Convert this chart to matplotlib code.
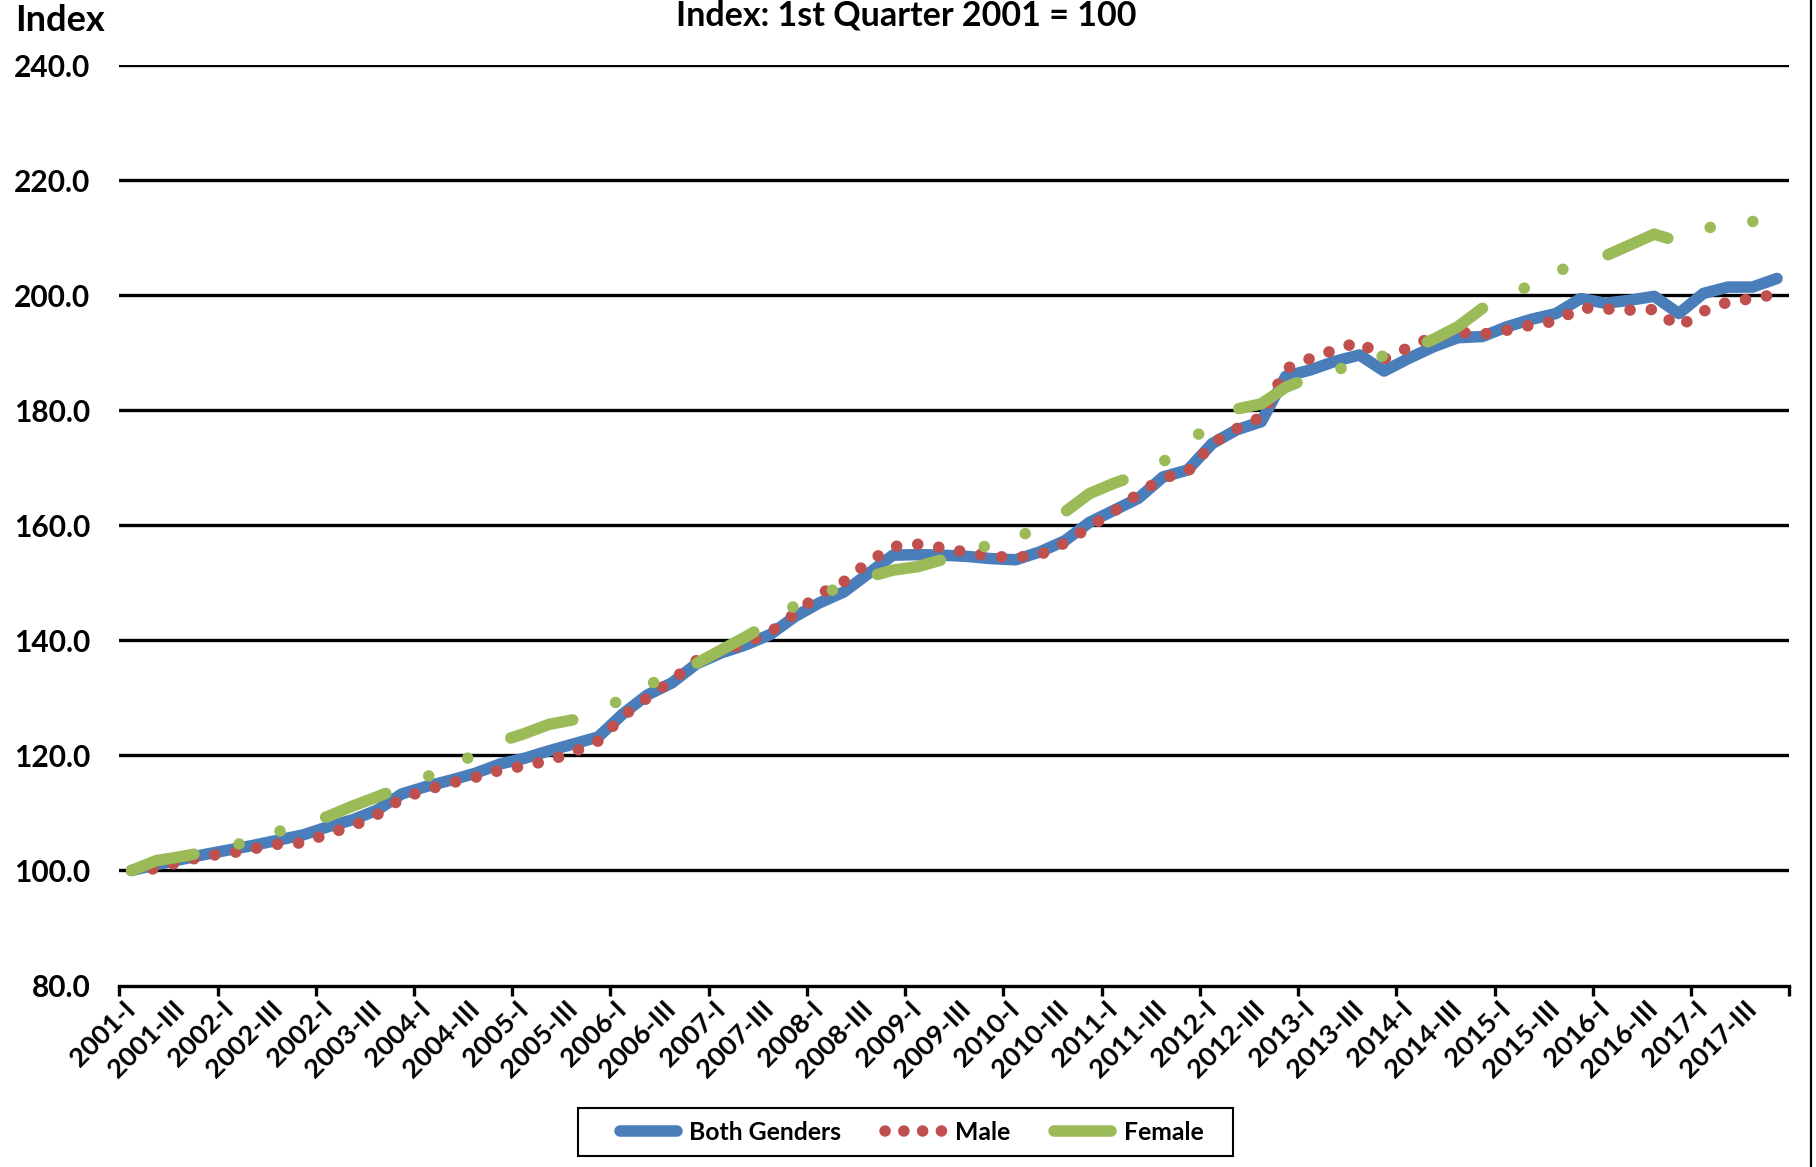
import numpy as np
import matplotlib
matplotlib.use("Agg")
import matplotlib.pyplot as plt
from matplotlib.lines import Line2D
from matplotlib.patches import Rectangle

# ---------------- data ----------------
tick_labels = ["2001-I", "2001-III", "2002-I", "2002-III", "2002-I", "2003-III",
               "2004-I", "2004-III", "2005-I", "2005-III", "2006-I", "2006-III",
               "2007-I", "2007-III", "2008-I", "2008-III", "2009-I", "2009-III",
               "2010-I", "2010-III", "2011-I", "2011-III", "2012-I", "2012-III",
               "2013-I", "2013-III", "2014-I", "2014-III", "2015-I", "2015-III",
               "2016-I", "2016-III", "2017-I", "2017-III"]

both = [100.0, 101.0, 101.9, 102.8, 103.6, 104.4, 105.3, 106.2,
        107.6, 108.8, 110.5, 113.3, 114.6, 115.7, 116.9, 118.5,
        119.5, 120.8, 122.0, 123.2, 127.2, 130.5, 132.6, 135.9,
        137.8, 139.2, 141.0, 144.1, 146.5, 148.4, 151.6, 154.8,
        154.9, 154.8, 154.6, 154.2, 154.0, 155.4, 157.3, 160.5,
        162.6, 164.7, 168.4, 169.6, 174.2, 176.6, 178.0, 185.9,
        187.0, 188.5, 189.6, 186.8, 189.0, 191.0, 192.6, 192.8,
        194.5, 195.8, 196.8, 199.4, 198.6, 199.1, 199.8, 196.8,
        200.3, 201.4, 201.4, 202.9]

male = [100.0, 100.3, 101.5, 102.5, 103.0, 103.8, 104.6, 104.8,
        106.4, 107.7, 109.7, 112.5, 114.0, 115.2, 116.2, 117.4,
        118.2, 119.1, 120.6, 122.5, 126.8, 130.0, 133.0, 136.5,
        138.0, 139.5, 141.4, 144.6, 148.0, 150.2, 153.6, 156.3,
        156.7, 156.1, 155.3, 154.6, 154.4, 154.9, 156.9, 159.7,
        162.4, 165.5, 168.2, 169.3, 174.2, 176.8, 178.8, 187.2,
        189.0, 190.5, 191.9, 188.9, 190.9, 192.8, 193.6, 193.2,
        193.9, 194.8, 195.5, 197.8, 197.6, 197.4, 197.5, 194.5,
        197.2, 198.8, 199.4, 200.2]

female = [100.0, 101.7, 102.4, 103.2, 104.2, 105.3, 106.8, 108.0,
          109.4, 111.2, 112.8, 114.5, 116.2, 118.5, 120.0, 122.4,
          123.8, 125.4, 126.2, 128.0, 129.7, 132.2, 134.0, 136.0,
          138.3, 140.6, 143.1, 146.0, 147.8, 149.5, 151.0, 152.2,
          152.8, 154.0, 155.8, 156.5, 158.0, 159.4, 162.3, 165.5,
          167.3, 168.8, 171.0, 174.5, 177.5, 180.2, 181.1, 184.0,
          185.7, 187.0, 188.0, 189.5, 190.5, 192.3, 194.5, 197.7,
          199.8, 201.8, 204.0, 205.8, 206.8, 208.7, 210.6, 209.3,
          211.6, 212.2, 212.8, 213.4]

series_names = ["Both Genders", "Male", "Female"]
y_ticks = [80, 100, 120, 140, 160, 180, 200, 220, 240]

# ---------------- style ----------------
FONT = ["Lato", "DejaVu Sans"]
plt.rcParams["font.family"] = FONT
plt.rcParams["font.weight"] = "bold"

BLUE = "#4A7EBB"
RED = "#C0504D"
GREEN = "#9BBB59"
LW = 8.3
MALE_STYLE = (0, (0.01, 1.83))
FEMALE_STYLE = (0, (5.62, 4.01, 0.01, 3.72, 0.01, 4.13))

W, H = 1816, 1167
fig = plt.figure(figsize=(W / 100, H / 100), dpi=100)
ax = fig.add_axes([0.0657, 0.1555, 0.9853 - 0.0657, 0.9443 - 0.1555])

x = np.arange(len(both))

ax.plot(x, both, color=BLUE, lw=LW, solid_capstyle="round",
        solid_joinstyle="round", zorder=3)
ax.plot(x, male, color=RED, lw=LW, linestyle=MALE_STYLE,
        dash_capstyle="round", dash_joinstyle="round", zorder=4)
ax.plot(x, female, color=GREEN, lw=LW, linestyle=FEMALE_STYLE,
        dash_capstyle="round", dash_joinstyle="round", zorder=5)

ax.set_xlim(-0.5, len(both) - 0.5)
ax.set_ylim(80, 240)

# gridlines
ax.set_yticks(y_ticks)
ax.set_yticklabels([f"{v:.1f}" for v in y_ticks], fontsize=21.5, fontweight="bold")
ax.tick_params(axis="y", length=0, pad=21)
for v in y_ticks[1:]:
    ax.axhline(v, color="black", lw=2.4, zorder=1)

for s in ["left", "right", "top"]:
    ax.spines[s].set_visible(False)
ax.spines["bottom"].set_linewidth(2.4)
ax.spines["bottom"].set_color("black")

# x axis: labels on every 2nd category, ticks on every 4 categories
ax.set_xticks(np.arange(0, len(both), 2))
ax.set_xticklabels(tick_labels, rotation=45, ha="right", va="center",
                   rotation_mode="anchor", fontsize=19.5, fontweight="bold")
ax.tick_params(axis="x", which="major", length=0, pad=14)
ax.set_xticks(np.arange(-0.5, len(both), 4), minor=True)
ax.tick_params(axis="x", which="minor", length=7, width=2.4, color="black",
               direction="out")

# texts
fig.text(15 / W, 1 - 31 / H, "Index", fontsize=26, fontweight="bold",
         ha="left", va="baseline")
fig.text(906 / W, 1 - 25 / H, "Index: 1st Quarter 2001 = 100",
         fontsize=24.5, fontweight="bold", ha="center", va="baseline")

# right border of chart area
fig.add_artist(Line2D([1811 / W, 1811 / W], [0, 1], color="black",
                      lw=1.6, transform=fig.transFigure))

# legend (frame drawn separately to match the wide box)
handles = [
    Line2D([], [], color=BLUE, lw=LW, solid_capstyle="round"),
    Line2D([], [], color=RED, lw=LW, linestyle=(0, (0.01, 1.62)),
           dash_capstyle="round"),
    Line2D([], [], color=GREEN, lw=LW, solid_capstyle="round"),
]
leg = ax.legend(handles, series_names, loc="center",
                bbox_to_anchor=(911.5 / W, 1 - 1132 / H),
                bbox_transform=fig.transFigure, ncol=3, frameon=False,
                handlelength=2.3, handletextpad=0.5, columnspacing=1.8,
                prop={"weight": "bold", "size": 17.8})
fig.add_artist(Rectangle((578 / W, 1 - 1156 / H), (1233 - 578) / W,
                         (1156 - 1108) / H, transform=fig.transFigure,
                         fill=False, edgecolor="black", lw=1.5))

fig.savefig("out.png", dpi=100)
